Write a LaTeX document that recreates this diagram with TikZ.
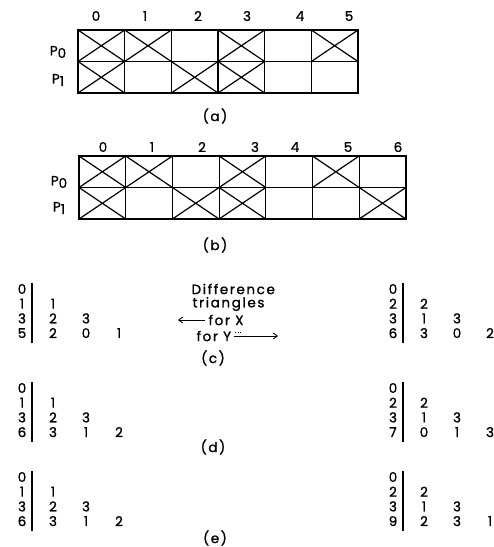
\documentclass[tikz,border=0pt]{standalone}
\usepackage{fontspec}
\newfontfamily\plotfont[LetterSpace=12, FakeBold=1.2]{Poppins}
\usetikzlibrary{arrows.meta}

% difference triangle: name, x of first column, y of first row, first column, entries row/col/value
\newcommand\difftri[5]{%
  \foreach \v [count=\r from 0] in {#4} \node (#1\r) at (#2,{#3+14.7*\r}) {\v};
  \path[draw, line width=1.3pt] ({#2+10},{#3-6}) -- ({#2+10},{#3+54});
  \foreach \r/\c/\v in {#5} \node (#1\r\c) at ({#2+31+33*\c},{#3+14.7*\r}) {\v};
}

\begin{document}
\begin{tikzpicture}[x=1pt, y=-1pt, line width=1.2pt, inner sep=1pt,
    font=\plotfont\fontsize{13.5}{15}\selectfont]
    \useasboundingbox (0,0) rectangle (494,547);
    % grid (a)
    \path[draw] (78,30) rectangle (358,93);
    \path[draw] (78,61.5) -- (358,61.5);
    \foreach \i in {1,...,5} \path[draw] ({78+46.67*\i},30) -- ++(0,63);
    \foreach \i in {0,1,3,5} \path[draw] ({78+46.67*\i},30) -- ++(46.67,31.5) ++(0,-31.5) -- ++(-46.67,31.5);
    \foreach \i in {0,2,3} \path[draw] ({78+46.67*\i},61.5) -- ++(46.67,31.5) ++(0,-31.5) -- ++(-46.67,31.5);
    \foreach \n/\x in {0/96,1/145,2/198,3/247,4/300,5/349} \node (la\n) at (\x,16) {\n};
    \node (pa0) at (58,52) {P\raisebox{-2.5pt}{0}};
    \node (pa1) at (58,80) {P\raisebox{-2.5pt}{1}};
    \node (capa) at (215,116) {(a)};
    % grid (b)
    \path[draw] (79,156) rectangle (406,219);
    \path[draw] (79,187.5) -- (406,187.5);
    \foreach \i in {1,...,6} \path[draw] ({79+46.7*\i},156) -- ++(0,63);
    \foreach \i in {0,1,3,5} \path[draw] ({79+46.7*\i},156) -- ++(46.7,31.5) ++(0,-31.5) -- ++(-46.7,31.5);
    \foreach \i in {0,2,3,6} \path[draw] ({79+46.7*\i},187.5) -- ++(46.7,31.5) ++(0,-31.5) -- ++(-46.7,31.5);
    \foreach \n/\x in {0/103,1/152,2/202,3/255,4/295,5/348,6/398} \node (lb\n) at (\x,147) {\n};
    \node (pb0) at (59,182) {P\raisebox{-2.5pt}{0}};
    \node (pb1) at (59,208) {P\raisebox{-2.5pt}{1}};
    \node (capb) at (215,245) {(b)};
    % triangles (c)
    \difftri{cl}{22}{289}{0,1,3,5}{1/0/1, 2/0/2, 2/1/3, 3/0/2, 3/1/0, 3/2/1}
    \difftri{cr}{393}{289}{0,2,3,6}{1/0/2, 2/0/1, 2/1/3, 3/0/3, 3/1/0, 3/2/2}
    \node[anchor=west] (diff) at (190,289) {Difference};
    \node[anchor=west] (tri) at (191,304) {triangles};
    \node[anchor=west] (forx) at (207,320) {for X};
    \node[anchor=west] (fory) at (195,336) {for Y};
    \coordinate (xend) at (178,320);
    \coordinate (yend) at (278,336);
    \path[draw, line width=0.9pt, -{Straight Barb[length=4pt,width=6pt]}] ([xshift=-2pt]forx.west) -- (xend);
    \path[draw, line width=0.9pt, -{Straight Barb[length=4pt,width=6pt]}] ([xshift=1pt]fory.east) -- (yend);
    \path[draw, line width=0.9pt, dotted] ([shift={(2,-3.5)}]fory.east) -- ++(7,0);
    \node (capc) at (213,358) {(c)};
    % triangles (d)
    \difftri{dl}{22}{388}{0,1,3,6}{1/0/1, 2/0/2, 2/1/3, 3/0/3, 3/1/1, 3/2/2}
    \difftri{dr}{393}{388}{0,2,3,7}{1/0/2, 2/0/1, 2/1/3, 3/0/0, 3/1/1, 3/2/3}
    \node (capd) at (213,447) {(d)};
    % triangles (e)
    \difftri{el}{22}{477}{0,1,3,6}{1/0/1, 2/0/2, 2/1/3, 3/0/3, 3/1/1, 3/2/2}
    \difftri{er}{393}{477}{0,2,3,9}{1/0/2, 2/0/1, 2/1/3, 3/0/2, 3/1/3, 3/2/1}
    \node (cape) at (215,538) {(e)};
\end{tikzpicture}
\end{document}
